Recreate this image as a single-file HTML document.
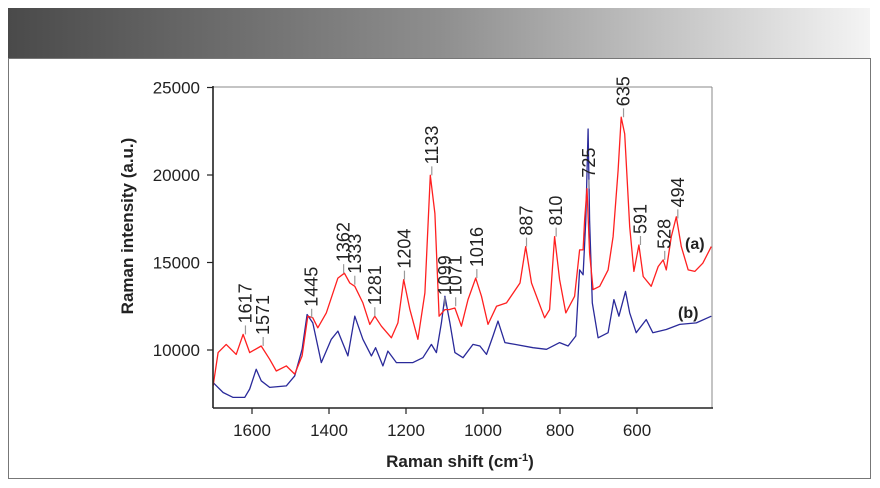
<!DOCTYPE html>
<html><head><meta charset="utf-8"><style>
html,body{margin:0;padding:0;background:#fff;}
svg{display:block;font-family:"Liberation Sans","DejaVu Sans",sans-serif;}
</style></head><body>
<svg width="880" height="488" viewBox="0 0 880 488">
<defs><linearGradient id="hdr" x1="0" x2="1" y1="0" y2="0">
<stop offset="0" stop-color="#4a4a4a"/><stop offset="0.5" stop-color="#8e8e8e"/><stop offset="1" stop-color="#f4f4f4"/></linearGradient></defs>
<rect x="8" y="8" width="862" height="50" fill="url(#hdr)"/>
<rect x="8.5" y="58.5" width="862" height="420" fill="none" stroke="#777" stroke-width="1"/>
<g id="plot"></g>
</svg>
<script>
const redWn=[1701,1688,1667,1641,1623,1606,1576,1554,1537,1511,1489,1470,1455,1442,1429,1407,1377,1360,1346,1333,1312,1294,1281,1264,1238,1221,1206,1190,1169,1151,1137,1125,1114,1099,1088,1073,1056,1039,1019,1004,987,965,939,904,889,874,840,827,814,801,785,762,749,740,736,730,723,714,697,675,662,649,641,632,619,608,595,584,563,545,532,524,511,498,485,467,450,429,407];
const redI=[7950,9850,10320,9750,10890,9850,10230,9470,8800,9090,8620,9660,11930,11840,11270,12120,14110,14390,13830,13640,12690,11460,11930,11360,10700,11550,14020,12310,10610,13260,19980,17800,11930,12310,12310,12400,11360,12880,14110,13070,11460,12500,12690,13830,15910,13830,11840,12310,16480,14020,12120,13070,15720,15720,17420,19220,15530,13450,13640,14580,16480,20260,23300,22350,17040,14490,16000,14200,13640,14770,15150,14580,16480,17610,15910,14580,14490,14960,15910];
const blueWn=[1701,1675,1649,1619,1606,1589,1576,1554,1511,1489,1470,1457,1442,1420,1394,1377,1351,1333,1312,1290,1279,1260,1247,1225,1182,1156,1134,1121,1108,1099,1086,1073,1052,1026,1008,991,974,961,943,917,870,835,801,779,759,749,740,733,727,723,716,701,675,660,647,630,619,602,576,559,524,489,446,407];
const blueI=[8140,7570,7290,7290,7770,8900,8240,7860,7950,8520,10040,12030,11550,9280,10610,11080,9660,11930,10610,9660,10130,9090,9940,9280,9280,9560,10320,9850,11550,13070,11550,9850,9560,10320,10230,9750,10800,11650,10420,10320,10130,10040,10420,10230,10800,14580,14300,17420,22630,17420,12690,10700,10990,12880,11930,13350,12120,10990,11740,10990,11170,11460,11550,11930];
const peakLabels=["1617","1571","1445","1362","1333","1281","1204","1133","1099","1071","1016","887","810","725","635","591","528","494"];
const peakWn=[1617,1571,1445,1362,1333,1281,1204,1133,1099,1071,1016,887,810,725,635,591,528,494];
const peakI=[10890,10230,11840,14390,13730,11930,14020,19980,12500,12500,14110,15910,16480,19220,23300,16000,15150,17520];
const yTicks=[10000,15000,20000,25000];
const xTicks=[1600,1400,1200,1000,800,600];

const L=213,R=712,T=87,B=408;
const X=w=>252+(1600-w)*0.385;
const Y=v=>350-(v-10000)*0.0175;
const NS="http://www.w3.org/2000/svg";
const g=document.getElementById('plot');
function mk(t,a,p){const e=document.createElementNS(NS,t);for(const k in a)e.setAttribute(k,a[k]);(p||g).appendChild(e);return e;}

let e=mk('line',{x1:L,y1:T,x2:R,y2:T,stroke:'#888','stroke-width':1});


e=mk('line',{x1:R,y1:T,x2:R,y2:B,stroke:'#888','stroke-width':1});



function series(wn,I,col,name){
  const d=wn.map((w,i)=>(i?'L':'M')+X(w).toFixed(1)+','+Y(I[i]).toFixed(1)).join(' ');
  const p=mk('path',{d:d,fill:'none',stroke:col,'stroke-width':1.3,'stroke-linejoin':'round'});
  
  
}
series(blueWn,blueI,'#2a2a9a','series-b-line');
series(redWn,redI,'#ff2020','series-a-line');

e=mk('line',{x1:L,y1:T-1,x2:L,y2:B,stroke:'#222','stroke-width':1.6});


e=mk('line',{x1:L,y1:B,x2:R+1,y2:B,stroke:'#222','stroke-width':1.6});



yTicks.forEach(v=>{
  const t=mk('line',{x1:L-6,y1:Y(v),x2:L,y2:Y(v),stroke:'#222','stroke-width':1.2});
  
  
  const s=mk('text',{x:200,y:Y(v)+6,'text-anchor':'end','font-size':17,fill:'#222'});
  s.textContent=v;
  
  
});
xTicks.forEach(v=>{
  const t=mk('line',{x1:X(v),y1:B,x2:X(v),y2:B+6,stroke:'#222','stroke-width':1.2});
  
  
  const s=mk('text',{x:X(v),y:436,'text-anchor':'middle','font-size':17,fill:'#222'});
  s.textContent=v;
  
  
});

peakLabels.forEach((lab,i)=>{
  const x=X(peakWn[i]),y=Y(peakI[i]);
  const t=mk('line',{x1:x,y1:y,x2:x,y2:y-9,stroke:'#999','stroke-width':1.2});
  
  
  const s=mk('text',{x:x+6,y:y-11,'font-size':18,fill:'#222',transform:'rotate(-90 '+(x+6)+' '+(y-11)+')'});
  s.textContent=lab;
  
  
});

e=mk('text',{x:685,y:249,'font-size':16,'font-weight':'bold',fill:'#222'});
e.textContent='(a)';


e=mk('text',{x:678,y:318,'font-size':16,'font-weight':'bold',fill:'#222'});
e.textContent='(b)';



e=mk('text',{x:133,y:226,'font-size':17,'font-weight':'bold',fill:'#222','text-anchor':'middle',transform:'rotate(-90 133 226)'});
e.textContent='Raman intensity (a.u.)';


e=mk('text',{x:460,y:467,'font-size':17,'font-weight':'bold',fill:'#222','text-anchor':'middle'});
e.innerHTML='Raman shift (cm<tspan dy="-6" font-size="11">-1</tspan><tspan dy="6">)</tspan>';


</script>
</body></html>
